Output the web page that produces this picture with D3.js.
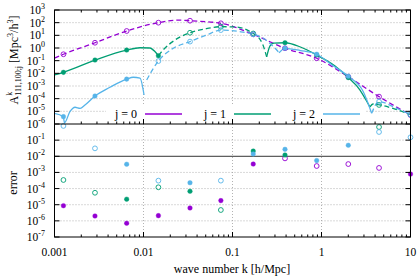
<!DOCTYPE html>
<html>
<head>
<meta charset="utf-8">
<script src="https://cdn.jsdelivr.net/npm/d3@7"></script>
<style>
  body { margin: 0; background: #fff; }
  svg { display: block; font-family: "Liberation Serif", "DejaVu Serif", serif; }
</style>
</head>
<body>
<div class="chart"></div>
<script>
// ---- data ---------------------------------------------------------------
const colors = ['#9400d3', '#009e73', '#56b4e9'];
const legendLabels = ['j = 0', 'j = 1', 'j = 2'];
const xTicks = [0.001, 0.01, 0.1, 1, 10];
const xTickLabels = ['0.001', '0.01', '0.1', '1', '10'];
const topExps = [3, 2, 1, 0, -1, -2, -3, -4, -5, -6];
const botExps = [-1, -2, -3, -4, -5, -6, -7];

// j = 0 (dashed everywhere)
const j0K = [0.001, 0.00126, 0.00285, 0.00647, 0.0147, 0.025, 0.0333, 0.074, 0.171, 0.389, 0.883, 2.0, 4.43, 10];
const j0A = [0.16, 0.32, 2.6, 22, 100, 160, 143, 89, 12, 0.95, 0.155, 0.0054, 1.45e-4, 5.1e-6];

// j = 1 pieces
const j1SolidAK = [0.001, 0.00126, 0.00285, 0.00647, 0.0091, 0.0118, 0.0135, 0.0147];
const j1SolidAA = [0.0074, 0.012, 0.112, 0.69, 1.05, 1.0, 0.51, 0.245];
const j1DashAK = [0.0147, 0.0166, 0.0226, 0.0333, 0.049, 0.074, 0.11, 0.171, 0.194, 0.22, 0.242];
const j1DashAA = [0.245, 0.69, 4.3, 16, 32, 48, 46, 14, 7.4, 1.7, 0.2];
const j1SolidBK = [0.242, 0.264, 0.29, 0.389, 0.58, 0.883, 1.42, 2.0, 2.71, 3.16, 3.5];
const j1SolidBA = [0.2, 1.45, 2.45, 2.6, 1.2, 0.28, 0.038, 0.0046, 4.8e-4, 7.9e-5, 2.2e-5];
const j1DashBK = [3.5, 3.79, 4.54, 6.7, 10];
const j1DashBA = [2.2e-5, 3.8e-5, 3.2e-5, 1.5e-5, 5.6e-6];

// j = 2 pieces
const j2SolidAK = [0.001, 0.001256, 0.001294, 0.00149, 0.0017, 0.00194, 0.0022, 0.00285, 0.0042, 0.00647, 0.00768, 0.00914, 0.01014];
const j2SolidAA = [7e-6, 3.8e-6, 1.26e-6, 9.3e-6, 2.1e-5, 1.74e-5, 3.2e-5, 1.62e-4, 7.9e-4, 3.5e-3, 4.9e-3, 4.1e-3, 1.95e-4];
const j2DashAK = [0.01086, 0.01466, 0.0216, 0.0333, 0.0513, 0.0743, 0.121, 0.171, 0.222, 0.264, 0.314, 0.333];
const j2DashAA = [3e-3, 0.093, 0.95, 3.2, 10.7, 26, 19.5, 12, 5.9, 2.3, 0.69, 0.41];
const j2SolidBK = [0.333, 0.389, 0.58, 0.883, 1.31, 2.0, 2.95, 3.66];
const j2SolidBA = [0.41, 0.95, 0.63, 0.32, 0.046, 0.0059, 3.5e-4, 7e-6];
const j2DashBK = [3.66, 4.17, 4.43, 6.7, 10];
const j2DashBA = [7e-6, 4.3e-5, 5.8e-5, 2e-5, 5.6e-6];

// markers on the model curves (1 = filled, 0 = open)
const j0MarkK = [0.00126, 0.00285, 0.00647, 0.0147, 0.0333, 0.074, 0.171, 0.389, 0.883, 2.0, 4.43, 10];
const j0MarkA = [0.32, 2.6, 22, 100, 143, 89, 12, 0.95, 0.155, 0.0054, 1.45e-4, 5.1e-6];
const j0MarkF = [0, 0, 0, 0, 0, 0, 0, 0, 0, 0, 0, 0];
const j1MarkK = [0.00126, 0.00285, 0.00647, 0.0147, 0.0333, 0.074, 0.171, 0.389, 0.883, 2.0, 4.43, 10];
const j1MarkA = [0.012, 0.112, 0.69, 0.245, 16, 48, 14, 2.6, 0.28, 0.0046, 3.2e-5, 5.6e-6];
const j1MarkF = [1, 1, 1, 1, 0, 0, 0, 1, 1, 1, 0, 0];
const j2MarkK = [0.00126, 0.00285, 0.00647, 0.0147, 0.0333, 0.074, 0.171, 0.389, 0.883, 2.0, 4.43, 10];
const j2MarkA = [3.8e-6, 1.62e-4, 3.5e-3, 0.093, 3.2, 26, 12, 0.95, 0.32, 0.0059, 5.8e-5, 5.6e-6];
const j2MarkF = [1, 1, 1, 0, 0, 0, 0, 1, 1, 1, 0, 0];

// error panel
const j0ErrK = [0.00126, 0.00285, 0.00647, 0.0147, 0.0333, 0.074, 0.171, 0.389, 0.883, 2.0, 4.43, 10];
const j0ErrV = [8.7e-6, 2e-6, 7.1e-7, 2.1e-6, 6.3e-6, 1.8e-5, 3.3e-3, 7.4e-3, 2.5e-3, 3.3e-3, 1.9e-3, 7.9e-4];
const j0ErrF = [1, 1, 1, 1, 1, 1, 1, 0, 0, 0, 0, 1];
const j1ErrK = [0.00126, 0.00285, 0.00647, 0.0147, 0.0333, 0.074, 0.171, 0.389, 4.43];
const j1ErrV = [3.4e-4, 5.5e-5, 2.2e-5, 1.2e-4, 6.8e-5, 4.7e-6, 0.021, 0.012, 0.65];
const j1ErrF = [0, 0, 1, 0, 1, 0, 1, 1, 0];
const j2ErrK = [0.00126, 0.00285, 0.00647, 0.0147, 0.0333, 0.074, 0.171, 0.389, 0.883, 2.0, 4.43, 10];
const j2ErrV = [0.76, 0.031, 3.2e-3, 3.1e-4, 2.3e-4, 3.1e-4, 0.014, 0.027, 5.4e-3, 0.048, 0.32, 0.15];
const j2ErrF = [0, 0, 1, 0, 1, 0, 1, 1, 1, 1, 0, 0];

// ---- layout -------------------------------------------------------------
const width = 420;
const height = 280;
const left = 54.5;
const right = 410.5;
const topY = 10;
const midY = 124;
const botY = 237;

const zip = (ks, vs) => ks.map((k, n) => ({ k: k, v: vs[n] }));
const zip3 = (ks, vs, fs) => ks.map((k, n) => ({ k: k, v: vs[n], f: fs[n] }));

const curves = [
  { c: 0, dash: true, pts: zip(j0K, j0A) },
  { c: 1, dash: false, pts: zip(j1SolidAK, j1SolidAA) },
  { c: 1, dash: true, pts: zip(j1DashAK, j1DashAA) },
  { c: 1, dash: false, pts: zip(j1SolidBK, j1SolidBA) },
  { c: 1, dash: true, pts: zip(j1DashBK, j1DashBA) },
  { c: 2, dash: false, pts: zip(j2SolidAK, j2SolidAA) },
  { c: 2, dash: true, pts: zip(j2DashAK, j2DashAA) },
  { c: 2, dash: false, pts: zip(j2SolidBK, j2SolidBA) },
  { c: 2, dash: true, pts: zip(j2DashBK, j2DashBA) }
];
const marks = [
  zip3(j0MarkK, j0MarkA, j0MarkF),
  zip3(j1MarkK, j1MarkA, j1MarkF),
  zip3(j2MarkK, j2MarkA, j2MarkF)
];
const errs = [
  zip3(j0ErrK, j0ErrV, j0ErrF),
  zip3(j1ErrK, j1ErrV, j1ErrF),
  zip3(j2ErrK, j2ErrV, j2ErrF)
];

const x = d3.scaleLog().domain([0.001, 10]).range([left, right]);
const yTop = d3.scaleLog().domain([1e-6, 1e3]).range([midY, topY]);
const yBot = d3.scaleLog().domain([1e-7, 1]).range([botY, midY]);

const svg = d3.select('.chart')
  .append('svg')
  .attr('width', width)
  .attr('height', height);

svg.append('defs').append('clipPath')
  .attr('id', 'clipTop')
  .append('rect')
  .attr('x', left).attr('y', topY)
  .attr('width', right - left).attr('height', midY - topY);

// grid lines
const grid = svg.append('g')
  .attr('stroke', '#a0a0a0')
  .attr('stroke-width', 0.8)
  .attr('stroke-dasharray', '1,2');

[0.01, 0.1, 1].forEach((t) => {
  grid.append('line')
    .attr('x1', x(t)).attr('x2', x(t))
    .attr('y1', topY).attr('y2', botY);
});
topExps.slice(1, -1).forEach((e) => {
  grid.append('line')
    .attr('x1', left).attr('x2', right)
    .attr('y1', yTop(Math.pow(10, e))).attr('y2', yTop(Math.pow(10, e)));
});
botExps.filter((e) => e !== -2 && e !== -7).forEach((e) => {
  grid.append('line')
    .attr('x1', left).attr('x2', right)
    .attr('y1', yBot(Math.pow(10, e))).attr('y2', yBot(Math.pow(10, e)));
});

// solid reference line at 1e-2 in the error panel
svg.append('line')
  .attr('x1', left).attr('x2', right)
  .attr('y1', yBot(1e-2)).attr('y2', yBot(1e-2))
  .attr('stroke', '#333')
  .attr('stroke-width', 1);

// ****************** curves ***************************
const line = d3.line()
  .x((d) => x(d.k))
  .y((d) => yTop(d.v))
  .curve(d3.curveMonotoneX);

const plot = svg.append('g').attr('clip-path', 'url(#clipTop)');

curves.forEach((s) => {
  plot.append('path')
    .attr('d', line(s.pts))
    .attr('fill', 'none')
    .attr('stroke', colors[s.c])
    .attr('stroke-width', 1.3)
    .attr('stroke-dasharray', s.dash ? '5,3' : null);
});

const drawMarks = (g, data, c, yScale) => {
  g.selectAll(null)
    .data(data)
    .enter().append('circle')
    .attr('cx', (d) => x(d.k))
    .attr('cy', (d) => yScale(d.v))
    .attr('r', (d) => (d.f ? 2.3 : 2.4))
    .attr('fill', (d) => (d.f ? colors[c] : 'none'))
    .attr('stroke', colors[c])
    .attr('stroke-width', (d) => (d.f ? 0.4 : 0.9));
};

marks.forEach((m, c) => drawMarks(plot, m, c, yTop));
errs.forEach((m, c) => drawMarks(svg.append('g'), m, c, yBot));

// ****************** legend ***************************
const legend = svg.append('g');
legend.append('rect')
  .attr('x', 106).attr('y', 105)
  .attr('width', 260).attr('height', 17)
  .attr('fill', '#fff');

const legX = [137, 226, 315];
legendLabels.forEach((lab, n) => {
  legend.append('text')
    .attr('x', legX[n])
    .attr('y', 118)
    .attr('text-anchor', 'end')
    .attr('font-size', 12)
    .text(lab);
  legend.append('line')
    .attr('x1', legX[n] + 8).attr('x2', legX[n] + 45)
    .attr('y1', 114).attr('y2', 114)
    .attr('stroke', colors[n])
    .attr('stroke-width', 1.5);
});

// ****************** axes frame + ticks ***************************
const frame = svg.append('g')
  .attr('stroke', '#000')
  .attr('stroke-width', 1)
  .attr('fill', 'none');

frame.append('rect')
  .attr('x', left).attr('y', topY)
  .attr('width', right - left).attr('height', botY - topY);
frame.append('line')
  .attr('x1', left).attr('x2', right)
  .attr('y1', midY).attr('y2', midY);

// x ticks: major + minor for log axis
const minor = [];
for (let e = -3; e < 1; e++) {
  for (let m = 2; m < 10; m++) minor.push(m * Math.pow(10, e));
}
const tickAt = (yy, dir, vals, len) => {
  vals.forEach((t) => {
    frame.append('line')
      .attr('x1', x(t)).attr('x2', x(t))
      .attr('y1', yy).attr('y2', yy + dir * len);
  });
};
tickAt(topY, 1, xTicks, 5);
tickAt(topY, 1, minor, 2.5);
tickAt(midY, -1, xTicks, 5);
tickAt(midY, -1, minor, 2.5);
tickAt(botY, -1, xTicks, 5);
tickAt(botY, -1, minor, 2.5);

topExps.forEach((e) => {
  const yy = yTop(Math.pow(10, e));
  frame.append('line').attr('x1', left).attr('x2', left + 5).attr('y1', yy).attr('y2', yy);
  frame.append('line').attr('x1', right).attr('x2', right - 5).attr('y1', yy).attr('y2', yy);
});
botExps.forEach((e) => {
  const yy = yBot(Math.pow(10, e));
  frame.append('line').attr('x1', left).attr('x2', left + 5).attr('y1', yy).attr('y2', yy);
  frame.append('line').attr('x1', right).attr('x2', right - 5).attr('y1', yy).attr('y2', yy);
});

// ****************** tick labels ***************************
const powLabel = (yy, e) => {
  const t = svg.append('text')
    .attr('x', 45)
    .attr('y', yy + 4)
    .attr('text-anchor', 'end')
    .attr('font-size', 11.5);
  t.append('tspan').text('10');
  t.append('tspan')
    .attr('dy', -5)
    .attr('font-size', 8)
    .text(e);
};
topExps.forEach((e) => powLabel(yTop(Math.pow(10, e)), e));
botExps.forEach((e) => powLabel(yBot(Math.pow(10, e)), e));

xTicks.forEach((t, n) => {
  svg.append('text')
    .attr('x', x(t))
    .attr('y', 256)
    .attr('text-anchor', 'middle')
    .attr('font-size', 11.5)
    .text(xTickLabels[n]);
});

// ****************** axis titles ***************************
svg.append('text')
  .attr('x', 232)
  .attr('y', 273)
  .attr('text-anchor', 'middle')
  .attr('font-size', 12)
  .text('wave number k [h/Mpc]');

const yt = svg.append('text')
  .attr('transform', 'translate(18,60) rotate(-90)')
  .attr('text-anchor', 'middle')
  .attr('font-size', 12);
yt.append('tspan').text('A');
yt.append('tspan').attr('dy', -6).attr('font-size', 8).text('k');
yt.append('tspan').attr('dx', -4).attr('dy', 9).attr('font-size', 8).text('111,100;j');
yt.append('tspan').attr('dy', -3).text(' [Mpc');
yt.append('tspan').attr('dy', -5).attr('font-size', 8).text('3');
yt.append('tspan').attr('dy', 5).text('/h');
yt.append('tspan').attr('dy', -5).attr('font-size', 8).text('3');
yt.append('tspan').attr('dy', 5).text(']');

svg.append('text')
  .attr('transform', 'translate(17,183) rotate(-90)')
  .attr('text-anchor', 'middle')
  .attr('font-size', 12)
  .text('error');
</script>
</body>
</html>
